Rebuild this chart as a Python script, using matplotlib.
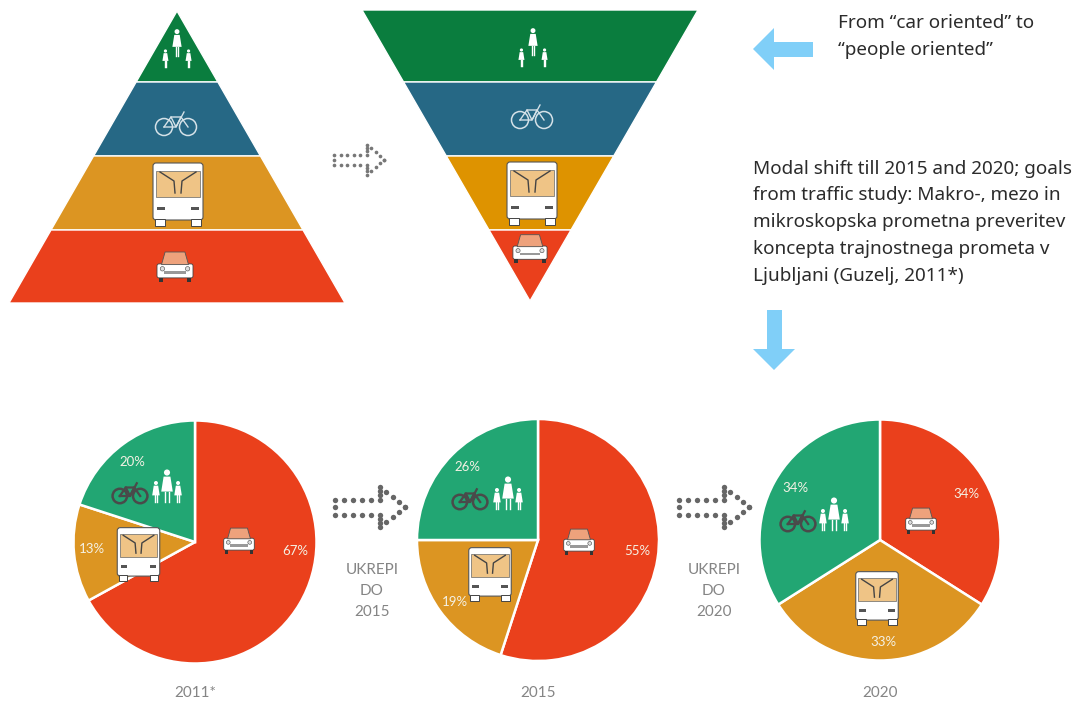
#!/usr/bin/env python3
"""Modal shift pyramids and pies, from car oriented to people oriented."""

import matplotlib

matplotlib.use("Agg")
import matplotlib.pyplot as plt
from matplotlib.patches import Circle, FancyBboxPatch, Polygon, Rectangle

W, H = 1087, 702

# printed percentages: car, bus, bike + walking
years = ["2011*", "2015", "2020"]
car = [67, 55, 34]
bus = [13, 19, 33]
active = [20, 26, 34]
# the wedges as drawn do not follow the printed labels exactly
car_drawn = [67, 55, 34]
bus_drawn = [13, 20, 32]
active_drawn = [20, 25, 34]
steps = ["UKREPI\nDO\n2015", "UKREPI\nDO\n2020"]

note_top = ["From “car oriented” to", "“people oriented”"]
note_mid = [
    "Modal shift till 2015 and 2020; goals",
    "from traffic study: Makro-, mezo in",
    "mikroskopska prometna preveritev",
    "koncepta trajnostnega prometa v",
    "Ljubljani (Guzelj, 2011*)",
]

RED = "#ea401c"
ORANGE = "#dc9522"
PIE_GREEN = "#22a673"
GREEN = "#0a7d3e"
BLUE = "#266885"
SKY = "#80cff8"
GREY = "#858585"
NOTE_FONT = "Noto Sans"
FONT = "Lato"

fig = plt.figure(figsize=(W / 100, H / 100), dpi=100)
ax = fig.add_axes([0, 0, 1, 1])
ax.set_xlim(0, W)
ax.set_ylim(H, 0)
ax.axis("off")


def pyramid(left, right, top, bottom, cuts, colors, inverted=False):
    mid = (left + right) / 2
    half = (right - left) / 2
    edges = [top] + cuts + [bottom]
    for y0, y1, color in zip(edges[:-1], edges[1:], colors):
        if inverted:
            w0 = half * (bottom - y0) / (bottom - top)
            w1 = half * (bottom - y1) / (bottom - top)
        else:
            w0 = half * (y0 - top) / (bottom - top)
            w1 = half * (y1 - top) / (bottom - top)
        ax.add_patch(Polygon([(mid - w0, y0), (mid + w0, y0), (mid + w1, y1), (mid - w1, y1)],
                             fc=color, ec="white", lw=1.0, zorder=2))


def car_icon(x, y, s=1.0, z=6):
    w, h = 18 * s, 14 * s
    ax.add_patch(FancyBboxPatch((x - w, y - h * 0.15), 2 * w, h, boxstyle="round,pad=0,rounding_size=2",
                                fc="white", ec="#444444", lw=0.6, zorder=z))
    ax.add_patch(Polygon([(x - w * 0.75, y - h * 0.1), (x - w * 0.55, y - h), (x + w * 0.55, y - h), (x + w * 0.75, y - h * 0.1)],
                         fc="#eea27c", ec="#555555", lw=0.6, zorder=z))
    ax.add_patch(Rectangle((x - w * 0.6, y + h * 0.35), w * 1.2, h * 0.2, fc="#999999", ec="none", zorder=z + 1))
    for sx in (-1, 1):
        ax.add_patch(Rectangle((x + sx * w * 0.8 - 2 * s, y + h * 0.85), 4 * s, 4 * s, fc="#333333", ec="none", zorder=z))
        ax.add_patch(Circle((x + sx * w * 0.7, y + h * 0.2), 2.2 * s, fc="#dddddd", ec="#444444", lw=0.4, zorder=z + 1))


def bus_icon(x, y, s=1.0, z=6):
    w, h = 25 * s, 31 * s
    ax.add_patch(FancyBboxPatch((x - w, y - h), 2 * w, 2 * h - 5 * s, boxstyle="round,pad=0,rounding_size=3",
                                fc="white", ec="#555555", lw=0.8, zorder=z))
    ax.add_patch(Rectangle((x - w + 3 * s, y - h + 8 * s), 2 * w - 6 * s, 26 * s, fc="#efc486", ec="#666666", lw=0.5, zorder=z))
    for sx in (-1, 1):
        ax.plot([x + sx * 18 * s, x + sx * 4 * s, x + sx * 3 * s], [y - h + 9 * s, y - h + 18 * s, y - h + 30 * s],
                color="#444444", lw=1.0, zorder=z + 1)
        ax.add_patch(Rectangle((x + sx * 18 * s - 5 * s, y + h - 6 * s), 10 * s, 7 * s, fc="white", ec="#444444", lw=0.7, zorder=z))
        ax.add_patch(Rectangle((x + sx * 17 * s - 4 * s, y + 13 * s), 8 * s, 3 * s, fc="#555555", ec="none", zorder=z + 1))


def bike_icon(x, y, s=1.0, color="#ffffff", lw=1.3, z=6):
    r = 8.5 * s
    for sx in (-1, 1):
        ax.add_patch(Circle((x + sx * 12 * s, y), r, fc="none", ec=color, lw=lw, zorder=z))
    ax.plot([x - 12 * s, x - 5 * s, x + 5 * s, x + 12 * s], [y, y - 10 * s, y - 10 * s, y], color=color, lw=lw * 0.9, zorder=z)
    ax.plot([x - 12 * s, x, x + 5 * s], [y, y, y - 10 * s], color=color, lw=lw * 0.9, zorder=z)
    ax.plot([x - 5 * s, x, x + 8 * s], [y - 10 * s, y, y - 15 * s], color=color, lw=lw * 0.9, zorder=z)


def person(x, y, h, color="white", z=6):
    ax.add_patch(Circle((x, y - h * 0.88), h * 0.09, fc=color, ec="none", zorder=z))
    ax.add_patch(Polygon([(x - h * 0.1, y - h * 0.76), (x + h * 0.1, y - h * 0.76), (x + h * 0.17, y - h * 0.32), (x - h * 0.17, y - h * 0.32)],
                         fc=color, ec="none", zorder=z))
    for sx in (-1, 1):
        ax.plot([x + sx * h * 0.05, x + sx * h * 0.05], [y - h * 0.32, y], color=color, lw=1.0, zorder=z)


def family_icon(x, y, s=1.0, kid_drop=0, gap=13):
    person(x, y + 17 * s, 40 * s)
    person(x - gap * s, y + 17 * s + kid_drop, 26 * s)
    person(x + gap * s, y + 17 * s + kid_drop, 26 * s)


def dotted_arrow(x0, yc, length, half_body=5.5, half_head=14, head=22, size=5, color="#666666", n_body=6):
    neck = x0 + length - head
    xs, ys = [], []
    for i in range(n_body):
        x = x0 + (neck - x0) * i / (n_body - 1)
        xs += [x, x]
        ys += [yc - half_body, yc + half_body]
    xs.append(x0)
    ys.append(yc)
    for i in range(1, 4):
        xs += [neck, neck]
        ys += [yc - half_body - (half_head - half_body) * i / 3, yc + half_body + (half_head - half_body) * i / 3]
    for i in range(1, 5):
        t = i / 4
        xs += [neck + head * t, neck + head * t]
        ys += [yc - half_head * (1 - t), yc + half_head * (1 - t)]
    ax.scatter(xs, ys, s=size, color=color, linewidths=0, zorder=3)


def pie_at(cx, cy, r, values):
    pie_ax = fig.add_axes([(cx - r) / W, 1 - (cy + r) / H, 2 * r / W, 2 * r / H])
    pie_ax.pie(values, colors=[RED, ORANGE, PIE_GREEN], startangle=90, counterclock=False, radius=1.0,
               wedgeprops={"edgecolor": "white", "linewidth": 1.8})
    pie_ax.set_xlim(-1, 1)
    pie_ax.set_ylim(-1, 1)
    return pie_ax


# top pyramids
pyramid(9, 345, 11, 303, [82, 156, 230], [GREEN, BLUE, ORANGE, RED])
pyramid(362, 698, 10, 301, [82, 156, 230], [GREEN, BLUE, "#de9300", RED], inverted=True)
family_icon(177, 44, 0.68, kid_drop=11, gap=17)
bike_icon(176, 127, 1.0, "#d5e2e8", lw=1.1)
bus_icon(178, 194, 1.0)
car_icon(175, 266, 1.0)
family_icon(533, 43, 0.68, kid_drop=11, gap=17)
bike_icon(532, 120, 1.0, "#d5e2e8", lw=1.1)
bus_icon(532, 193, 1.0)
car_icon(530, 248, 0.95)

dotted_arrow(334, 159.5, 50, half_body=5, half_head=15, head=17, size=7, color="#777777")

# light blue arrows
ax.add_patch(Polygon([(753, 49), (774, 28), (774, 42), (813, 42), (813, 57), (774, 57), (774, 70)], fc=SKY, ec="none"))
ax.add_patch(Polygon([(767, 310), (782, 310), (782, 349), (795, 349), (774, 370), (753, 349), (767, 349)], fc=SKY, ec="none"))

for i, line in enumerate(note_top):
    ax.text(838, 28 + i * 27, line, fontsize=13.6, family=NOTE_FONT, color="#2b2b2b", va="baseline", ha="left")
for i, line in enumerate(note_mid):
    ax.text(753, 173.5 + i * 26.8, line, fontsize=13.6, family=NOTE_FONT, color="#2b2b2b", va="baseline", ha="left")

# pies
centers = [(195, 542, 121.5), (538, 540, 121), (880, 540, 120.5)]
for (cx, cy, r), a, b, c in zip(centers, car_drawn, bus_drawn, active_drawn):
    pie_at(cx, cy, r, [a, b, c])

overlay = fig.add_axes([0, 0, 1, 1])
overlay.set_xlim(0, W)
overlay.set_ylim(H, 0)
overlay.axis("off")
overlay.patch.set_alpha(0)
ax = overlay

label_pos = [
    [(295, 551), (92, 549), (132, 462)],
    [(637, 551), (455, 602), (467, 467)],
    [(966, 494), (883, 642), (795, 488)],
]
for pos, a, b, c in zip(label_pos, car, bus, active):
    for (x, y), val in zip(pos, (a, b, c)):
        ax.text(x, y, f"{val}%", fontsize=9.5, family=FONT, color="#f4f1e4", ha="center", va="center")

car_icon(239, 540, 0.85)
bus_icon(138.5, 554, 0.85)
bike_icon(130, 496, 0.85, "#4a4a4a", lw=1.8)
family_icon(167, 488, 0.85)

car_icon(579, 541, 0.85)
bus_icon(490, 574, 0.85)
bike_icon(470, 502, 0.85, "#4a4a4a", lw=1.8)
family_icon(508, 495, 0.85)

car_icon(921, 520, 0.85)
bus_icon(877, 598, 0.85)
bike_icon(798, 524, 0.85, "#4a4a4a", lw=1.8)
family_icon(834, 516, 0.85)

dotted_arrow(335, 507, 70, half_body=7.5, half_head=20, head=25, size=15, color="#666666")
dotted_arrow(679, 507, 70, half_body=7.5, half_head=20, head=25, size=15, color="#666666")

for x, label in zip((372, 714), steps):
    for i, line in enumerate(label.split("\n")):
        ax.text(x, 570 + i * 21, line, fontsize=11, family=FONT, color=GREY, ha="center", va="center")

for x, year in zip((195, 538, 880), years):
    ax.text(x, 693, year, fontsize=11, family=FONT, color=GREY, ha="center", va="center")

fig.savefig("out.png", dpi=100)
